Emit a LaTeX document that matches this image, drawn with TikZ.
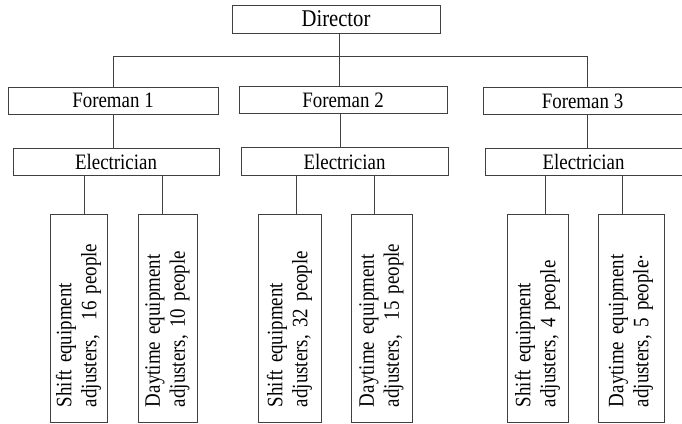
\documentclass[tikz,border=0pt]{standalone}
\usepackage{fontspec}
\setmainfont{Liberation Serif}
\newfontfamily\narrowserif[FakeStretch=0.86]{Liberation Serif}
\begin{document}
\begin{tikzpicture}[x=1pt,y=-1pt,
    box/.style={draw=black!75,line width=0.8pt,inner sep=0pt,minimum height=27pt,
      font=\narrowserif\fontsize{22}{25}\selectfont},
    staff/.style={box,rotate=90,minimum width=208pt,text width=178pt,
      inner xsep=15pt,align=left}]
  \useasboundingbox (0,0) rectangle (682,423);
  % top
  \node[box,minimum width=208pt,minimum height=28pt,font=\narrowserif\fontsize{24}{26}\selectfont] (dir) at (336,19) {Director};
  % foremen
  \node[box,minimum width=210pt] (f1) at (113,100.5) {Foreman 1};
  \node[box,minimum width=208pt] (f2) at (343,100) {Foreman 2};
  \node[box,minimum width=199pt] (f3) at (582.5,101) {Foreman 3};
  % electricians
  \node[box,minimum width=206pt] (e1) at (116,161.5) {Electrician};
  \node[box,minimum width=207pt,minimum height=28pt] (e2) at (344.5,161.5) {Electrician};
  \node[box,minimum width=197pt] (e3) at (583.5,161.5) {Electrician};
  % adjusters
  \node[staff,minimum height=57pt] (s1) at (78.5,318) {Shift equipment\\adjusters,~ 16 people};
  \node[staff,minimum height=59pt] (s2) at (167.5,318) {Daytime equipment\\adjusters, 10 people};
  \node[staff,minimum height=63pt] (s3) at (289.5,318) {Shift equipment\\adjusters, 32 people};
  \node[staff,minimum height=61pt] (s4) at (381.5,318) {Daytime equipment\\adjusters,~ 15 people};
  \node[staff,minimum height=61pt] (s5) at (537.5,318) {Shift equipment\\adjusters, 4 people};
  \node[staff,minimum height=66pt] (s6) at (631,318) {Daytime equipment\\adjusters, 5 people·};
  % connectors
  \begin{scope}[draw=black!75,line width=0.8pt]
    \draw ([xshift=3pt]dir.south) -- ([xshift=3pt]dir.south |- f2.north);
    \draw (f1.north) -- ++(0,-30) -| ([xshift=4.5pt]f3.north);
    \draw (f1.south) -- (f1.south |- e1.north);
    \draw ([xshift=-3pt]f2.south) -- ([xshift=-3pt]f2.south |- e2.north);
    \draw ([xshift=4.5pt]f3.south) -- ([xshift=4.5pt]f3.south |- e3.north);
    \draw ([xshift=6pt]s1.east) -- ([xshift=6pt]s1.east |- e1.south);
    \draw ([xshift=-5.5pt]s2.east) -- ([xshift=-5.5pt]s2.east |- e1.south);
    \draw ([xshift=6.5pt]s3.east) -- ([xshift=6.5pt]s3.east |- e2.south);
    \draw ([xshift=-7.5pt]s4.east) -- ([xshift=-7.5pt]s4.east |- e2.south);
    \draw ([xshift=7.5pt]s5.east) -- ([xshift=7.5pt]s5.east |- e3.south);
    \draw ([xshift=-9pt]s6.east) -- ([xshift=-9pt]s6.east |- e3.south);
  \end{scope}
\end{tikzpicture}
\end{document}
